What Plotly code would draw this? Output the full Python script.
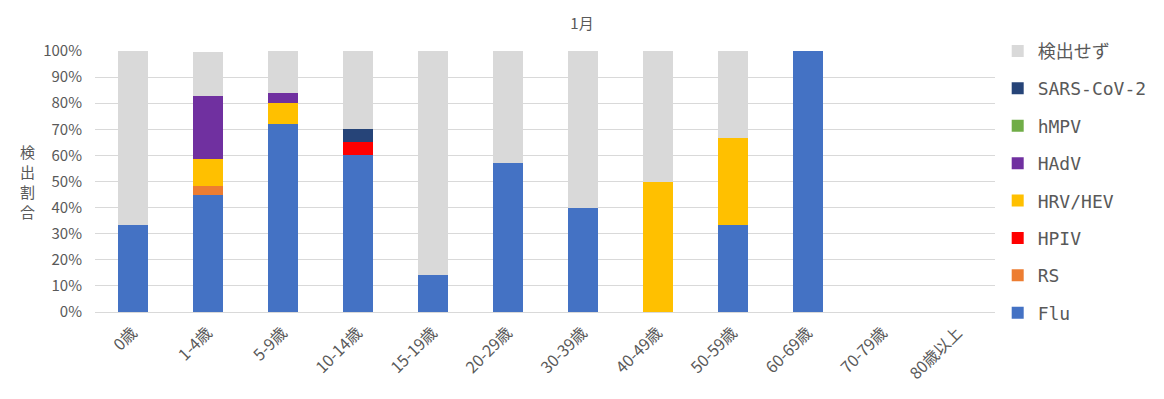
import plotly.graph_objects as go

categories = ["0歳", "1-4歳", "5-9歳", "10-14歳", "15-19歳", "20-29歳", "30-39歳",
              "40-49歳", "50-59歳", "60-69歳", "70-79歳", "80歳以上"]

flu = [33.3, 44.8, 72.0, 60.0, 14.3, 57.1, 40.0, 0, 33.3, 100.0, 0, 0]
rs = [0, 3.4, 0, 0, 0, 0, 0, 0, 0, 0, 0, 0]
hpiv = [0, 0, 0, 5.0, 0, 0, 0, 0, 0, 0, 0, 0]
hrv_hev = [0, 10.3, 8.0, 0, 0, 0, 0, 50.0, 33.3, 0, 0, 0]
hadv = [0, 24.1, 4.0, 0, 0, 0, 0, 0, 0, 0, 0, 0]
hmpv = [0, 0, 0, 0, 0, 0, 0, 0, 0, 0, 0, 0]
sars = [0, 0, 0, 5.0, 0, 0, 0, 0, 0, 0, 0, 0]
none_det = [66.7, 17.2, 16.0, 30.0, 85.7, 42.9, 60.0, 50.0, 33.4, 0, 0, 0]

series = [
    ("Flu", flu, "#4472C4"),
    ("RS", rs, "#ED7D31"),
    ("HPIV", hpiv, "#FF0000"),
    ("HRV/HEV", hrv_hev, "#FFC000"),
    ("HAdV", hadv, "#7030A0"),
    ("hMPV", hmpv, "#70AD47"),
    ("SARS-CoV-2", sars, "#264478"),
    ("検出せず", none_det, "#D9D9D9"),
]

y_title_chars = ["検", "出", "割", "合"]

FONT = "Noto Sans CJK JP"
LEGEND_FONT = "DejaVu Sans Mono, Noto Sans CJK JP"
GRAY = "#595959"

fig = go.Figure()
n = len(series)
for i, (name, vals, color) in enumerate(series):
    fig.add_trace(go.Bar(
        x=categories, y=vals, name=name, marker_color=color,
        marker_line_width=0, legendgroup=f"g{i}", legendrank=n - i,
    ))

fig.update_layout(
    barmode="stack",
    bargap=0.6,
    width=1164, height=399,
    margin=dict(l=95, r=169, t=51, b=87, autoexpand=False),
    paper_bgcolor="white", plot_bgcolor="white",
    font=dict(family=FONT, color=GRAY, size=14),
    title=dict(text="1月", xref="container", x=0.5, xanchor="center", y=0.94,
               yanchor="middle", font=dict(size=15, color=GRAY, family=FONT)),
    legend=dict(x=1.003, y=1.07, xanchor="left", yanchor="top",
                traceorder="grouped", tracegroupgap=11,
                font=dict(size=18, color=GRAY, family=LEGEND_FONT),
                itemwidth=30, maxheight=399),
    showlegend=True,
)
fig.update_yaxes(range=[0, 100], tickvals=list(range(0, 101, 10)),
                 ticktext=[f"{v}%" for v in range(0, 101, 10)],
                 showgrid=True, gridcolor="#D9D9D9", gridwidth=1,
                 zeroline=False, showline=False, ticks="",
                 ticklabelstandoff=12, automargin=False,
                 tickfont=dict(size=15, color=GRAY))
fig.update_xaxes(showline=True, linecolor="#D9D9D9", linewidth=1, ticks="",
                 tickangle=-45, ticklabelstandoff=4, automargin=False,
                 tickfont=dict(size=16, color=GRAY))
for k, ch in enumerate(y_title_chars):
    fig.add_annotation(text=ch, xref="paper", yref="paper",
                       x=-0.075, y=0.5, yshift=30 - 20 * k, showarrow=False,
                       xanchor="center", yanchor="middle",
                       font=dict(size=15, color=GRAY, family=FONT))

fig.write_html("out.html")
